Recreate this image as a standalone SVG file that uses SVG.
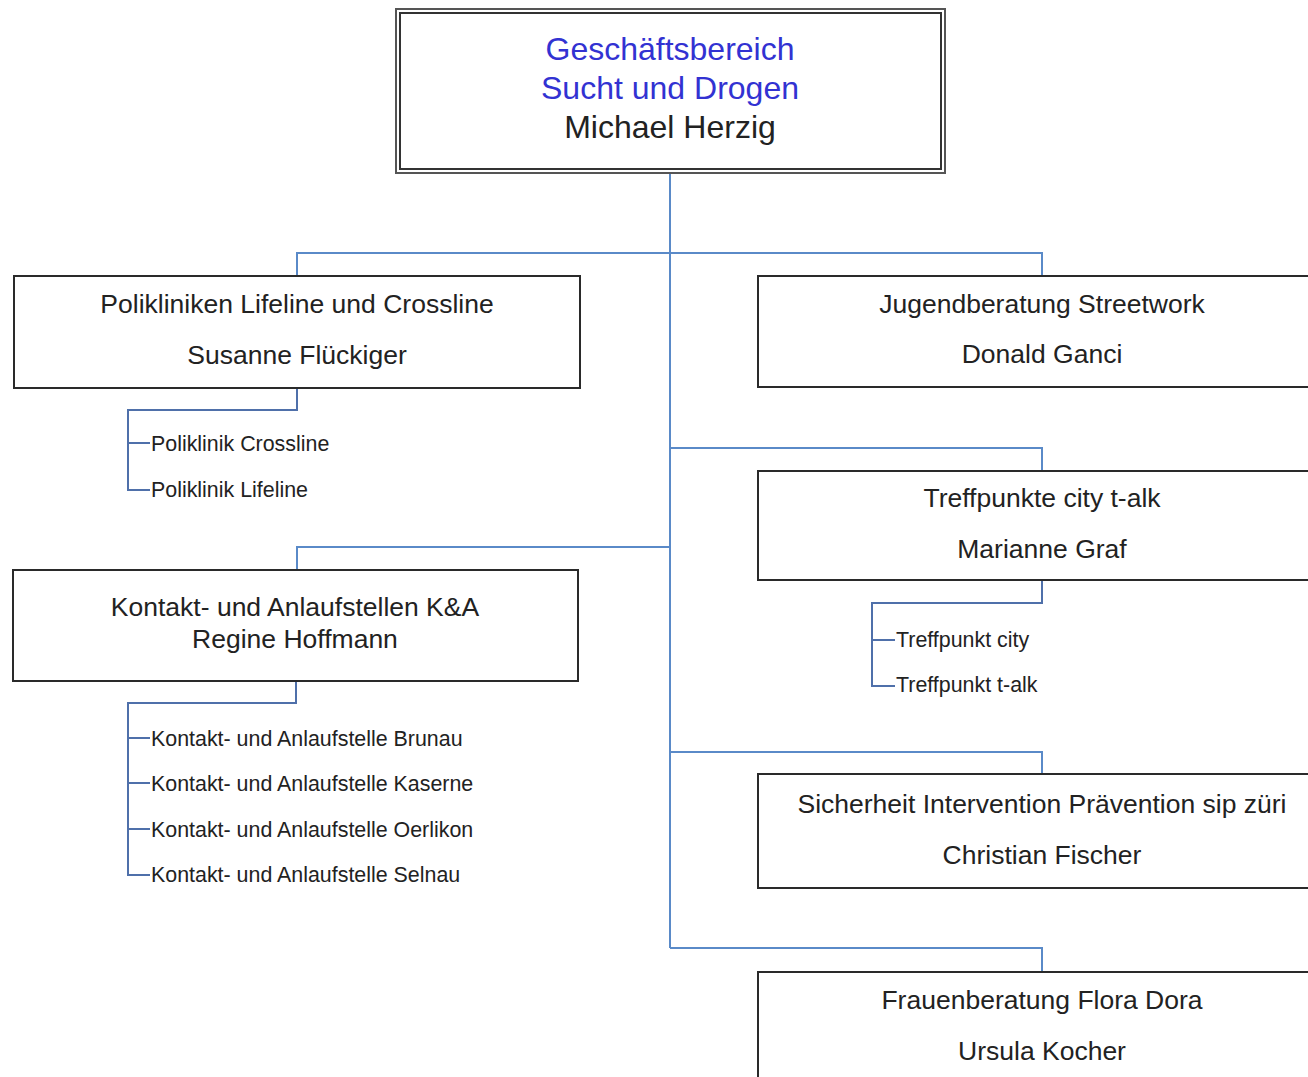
<svg xmlns="http://www.w3.org/2000/svg" width="1308" height="1077" viewBox="0 0 1308 1077">
<style>
.box{fill:#fff;stroke:#2a2a2a;stroke-width:2}
.t{font-family:"Liberation Sans",Arial,sans-serif;fill:#222;text-anchor:middle;font-size:26.5px}
.big{font-size:32px}
.s{font-family:"Liberation Sans",Arial,sans-serif;fill:#222;font-size:21.4px}
.blue{fill:#3232d2}
.main{fill:none;stroke:#5a8ac8;stroke-width:2}
.sub{fill:none;stroke:#4f70aa;stroke-width:2}
</style>
<rect width="1308" height="1077" fill="#fff"/>
<g id="connectors">
<path class="main" stroke-width="2.5" d="M670 174 V948"/>
<path class="main" d="M297 276 V253 H1042 V276"/>
<path class="main" d="M670 448 H1042 V471"/>
<path class="main" d="M670 547 H297 V570"/>
<path class="main" d="M670 752 H1042 V774"/>
<path class="main" d="M670 948 H1042 V972"/>
<path class="sub" d="M297 388 V410 H128 V490 H150 M128 443 H150"/>
<path class="sub" d="M296 681 V703 H128 V875 H150 M128 738 H150 M128 783 H150 M128 829 H150"/>
<path class="sub" stroke-width="3" d="M296 681 V703 H128 V708"/>
<path class="sub" d="M1042 580 V603 H872 V686 H895 M872 640 H895"/>
</g>
<g id="top">
<rect x="396" y="9" width="549" height="164" fill="#fff" stroke="#555" stroke-width="2"/>
<rect x="400" y="13" width="541" height="156" fill="#fff" stroke="#333" stroke-width="2"/>
<text class="t big blue" x="670" y="60">Geschäftsbereich</text>
<text class="t big blue" x="670" y="99">Sucht und Drogen</text>
<text class="t big" x="670" y="138">Michael Herzig</text>
</g>
<g id="polikliniken">
<rect class="box" x="14" y="276" width="566" height="112"/>
<text class="t" x="297" y="313">Polikliniken Lifeline und Crossline</text>
<text class="t" x="297" y="364">Susanne Flückiger</text>
</g>
<g id="poli-items">
<text class="s" x="151" y="451">Poliklinik Crossline</text>
<text class="s" x="151" y="497">Poliklinik Lifeline</text>
</g>
<g id="jugendberatung">
<rect class="box" x="758" y="276" width="560" height="111"/>
<text class="t" x="1042" y="313">Jugendberatung Streetwork</text>
<text class="t" x="1042" y="363">Donald Ganci</text>
</g>
<g id="treffpunkte">
<rect class="box" x="758" y="471" width="560" height="109"/>
<text class="t" x="1042" y="507">Treffpunkte city t-alk</text>
<text class="t" x="1042" y="558">Marianne Graf</text>
</g>
<g id="treff-items">
<text class="s" x="896" y="647">Treffpunkt city</text>
<text class="s" x="896" y="692">Treffpunkt t-alk</text>
</g>
<g id="kontakt">
<rect class="box" x="13" y="570" width="565" height="111"/>
<text class="t" x="295" y="616">Kontakt- und Anlaufstellen K&amp;A</text>
<text class="t" x="295" y="648">Regine Hoffmann</text>
</g>
<g id="kontakt-items">
<text class="s" x="151" y="746">Kontakt- und Anlaufstelle Brunau</text>
<text class="s" x="151" y="791">Kontakt- und Anlaufstelle Kaserne</text>
<text class="s" x="151" y="837">Kontakt- und Anlaufstelle Oerlikon</text>
<text class="s" x="151" y="882">Kontakt- und Anlaufstelle Selnau</text>
</g>
<g id="sip">
<rect class="box" x="758" y="774" width="560" height="114"/>
<text class="t" x="1042" y="813">Sicherheit Intervention Prävention sip züri</text>
<text class="t" x="1042" y="864">Christian Fischer</text>
</g>
<g id="frauenberatung">
<rect class="box" x="758" y="972" width="560" height="120"/>
<text class="t" x="1042" y="1009">Frauenberatung Flora Dora</text>
<text class="t" x="1042" y="1060">Ursula Kocher</text>
</g>
</svg>
